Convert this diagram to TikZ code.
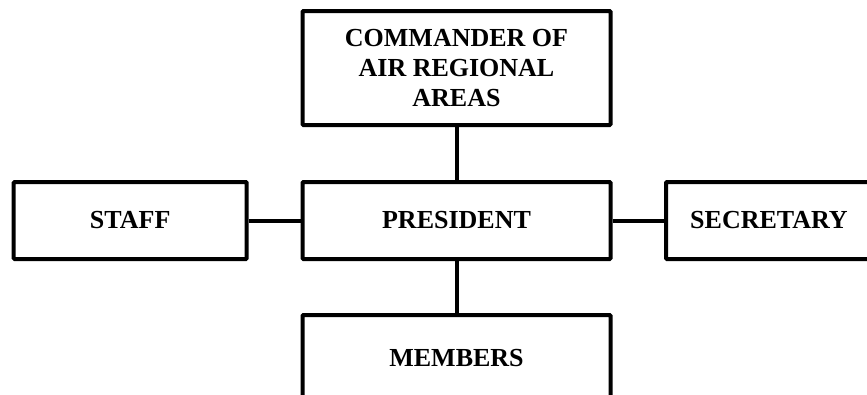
\documentclass[tikz,border=0pt]{standalone}
\usepackage{fontspec}
\setmainfont{Liberation Serif}
\usetikzlibrary{positioning}
\tikzset{unit/.style={draw, line width=4pt, rounded corners=1pt, align=center, inner sep=0pt,
  font=\bfseries\fontsize{26}{30}\selectfont}}

\begin{document}
\begin{tikzpicture}[x=1pt,y=-1pt]
\useasboundingbox (0,0) rectangle (867,394);
\clip (0,0) rectangle (867,394);
\node[unit, minimum width=308pt, minimum height=114pt] (cmdr) at (456.5,68) {COMMANDER OF\\AIR REGIONAL\\AREAS};
\node[unit, minimum width=308pt, minimum height=77pt] (pres) at (456.5,220.5) {PRESIDENT};
\node[unit, minimum width=233pt, minimum height=77pt] (staff) at (130.2,220.5) {STAFF};
% box runs past the right edge
\node[unit, minimum width=270pt, minimum height=77pt] (secr) at (801,220.5) {SECRETARY\hspace*{64pt}};
\node[unit, minimum width=308pt, minimum height=86pt] (memb) at (456.5,358) {MEMBERS};
\draw[line width=4pt] (cmdr) -- (pres);
\draw[line width=4pt] (pres) -- (memb);
\draw[line width=4pt] (staff) -- (pres);
\draw[line width=4pt] (pres) -- (secr);
\end{tikzpicture}
\end{document}
